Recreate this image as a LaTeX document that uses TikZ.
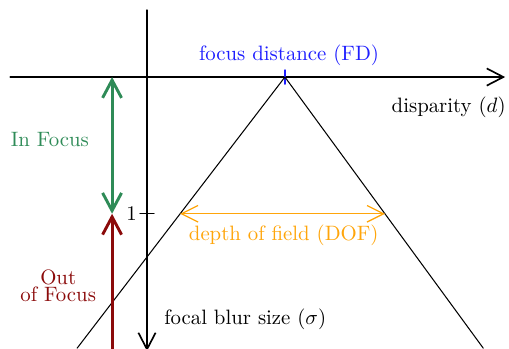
\documentclass[tikz,border=0pt]{standalone}
\usepackage{amsmath}
\usepackage{xcolor}
\usetikzlibrary{arrows.meta,positioning}
\definecolor{focusgreen}{RGB}{46,139,87}
\definecolor{blurred}{RGB}{139,10,10}
\definecolor{doforange}{RGB}{255,165,10}
\definecolor{fdblue}{RGB}{30,30,255}
\tikzset{
  every picture/.append style={line cap=round,line join=round},
  dof axis/.style={line width=0.8pt,-{Straight Barb[length=2.8mm,width=2.9mm]}},
  dof curve/.style={line width=0.5pt},
  dof span/.style={doforange,line width=0.6pt,{Straight Barb[length=2.8mm,width=2.8mm]}-{Straight Barb[length=2.8mm,width=2.8mm]}},
  focus span/.style={focusgreen,line width=1.4pt,{Straight Barb[length=3mm,width=3.2mm]}-{Straight Barb[length=3mm,width=3.2mm]}},
  blur span/.style={blurred,line width=1.4pt,-{Straight Barb[length=3mm,width=3.2mm]}},
  dof note/.style={align=center,inner sep=1pt}
}

\begin{document}
\begin{tikzpicture}
\useasboundingbox (-2.483,-4.578) rectangle (6.115,1.301);
% axes
\coordinate (dleft) at (-2.31,0);
\coordinate (dright) at (6.05,0);
\coordinate (stop) at (0,1.13);
\coordinate (sbot) at (0,-4.63);
\draw[dof axis] (dleft) -- (dright);
\draw[dof axis] (stop) -- (sbot);
\node[dof note,anchor=east] (dlab) at (6.1,-0.51) {disparity ($d$)};
\node[dof note,anchor=west] (slab) at (0.25,-4.10) {focal blur size ($\sigma$)};
% focus distance and the blur cone
\coordinate (fd) at (2.33,0);
\draw[fdblue,line width=0.6pt] ([yshift=1.2mm]fd) -- ([yshift=-1.2mm]fd);
\node[dof note,fdblue] (fdlab) at (2.40,0.37) {focus distance (FD)};
\coordinate (tl) at (-1.18,-4.58);
\coordinate (tr) at (5.68,-4.58);
\draw[dof curve] (tl) -- (fd) -- (tr);
% unit blur
\coordinate (one) at (0,-2.31);
\draw[line width=0.6pt] ([xshift=-1.2mm]one) -- ([xshift=1.2mm]one);
\node[dof note,left=1.3mm of one] (onelab) {1};
% depth of field
\coordinate (dofl) at (0.56,-2.31);
\coordinate (dofr) at (4.02,-2.31);
\draw[dof span] (dofl) -- (dofr);
\node[dof note,doforange] (doflab) at (2.31,-2.67) {depth of field (DOF)};
% in / out of focus
\coordinate (inhi) at (-0.59,0);
\coordinate (inlo) at (-0.59,-2.31);
\coordinate (outlo) at (-0.59,-4.65);
\draw[focus span] (inhi) -- (inlo);
\draw[blur span] (outlo) -- (inlo);
\node[dof note,focusgreen] (inlab) at (-1.64,-1.06) {In Focus};
\node[dof note,blurred] (outlab) at (-1.50,-3.53) {Out\\[-3.6pt]of Focus};
\end{tikzpicture}
\end{document}
